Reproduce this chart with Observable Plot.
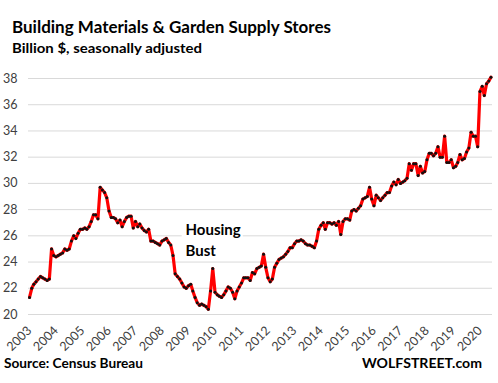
<!DOCTYPE html>
<html><head><meta charset="utf-8">
<script src="https://cdn.jsdelivr.net/npm/d3@7"></script>
<script src="https://cdn.jsdelivr.net/npm/@observablehq/plot@0.6"></script>
<style>
body{margin:0;background:#fff;}
#wrap{width:498px;height:383px;overflow:hidden;background:#fff;}
#wrap svg{display:block;}
.hd{font-family:Lato,"Open Sans",sans-serif;font-weight:700;fill:#000;}
</style></head><body>
<div id="wrap">
<svg id="header" width="498" height="60">
  <text class="hd" x="12" y="32.5" font-size="17" textLength="319" lengthAdjust="spacingAndGlyphs">Building Materials &amp; Garden Supply Stores</text>
  <text class="hd" x="12" y="53" font-size="13" textLength="190" lengthAdjust="spacingAndGlyphs">Billion $, seasonally adjusted</text>
</svg>
<div id="chart"></div>
<svg id="footer" width="498" height="27">
  <text class="hd" x="4" y="12" font-size="13" textLength="139" lengthAdjust="spacingAndGlyphs">Source: Census Bureau</text>
  <text class="hd" x="362" y="12" font-size="13" textLength="120" lengthAdjust="spacingAndGlyphs">WOLFSTREET.com</text>
</svg>
</div>
<script>
// Monthly sales, billion $, seasonally adjusted (Jan 2003 – Jun 2020)
const startYear = 2003;
const v2003 = [21.3, 22.0, 22.3, 22.5, 22.7, 22.9, 22.8, 22.7, 22.6, 22.7, 25.0, 24.5];
const v2004 = [24.4, 24.5, 24.6, 24.7, 25.0, 24.9, 25.0, 25.6, 26.0, 25.8, 26.2, 26.5];
const v2005 = [26.5, 26.6, 26.5, 26.7, 27.1, 27.6, 27.6, 27.3, 29.7, 29.5, 29.3, 28.9];
const v2006 = [27.9, 27.4, 27.4, 27.3, 27.0, 27.2, 26.7, 27.1, 27.4, 27.5, 27.5, 26.6];
const v2007 = [27.1, 26.7, 26.9, 26.6, 26.4, 26.3, 26.5, 25.6, 25.6, 25.5, 25.4, 25.3];
const v2008 = [25.6, 25.7, 25.8, 25.5, 25.3, 24.5, 23.1, 22.9, 22.7, 22.4, 22.1, 22.0];
const v2009 = [22.2, 22.3, 21.8, 21.3, 20.9, 20.7, 20.8, 20.7, 20.6, 20.4, 21.8, 23.5];
const v2010 = [21.7, 21.5, 21.4, 21.3, 21.5, 21.8, 22.1, 22.0, 21.7, 21.2, 21.8, 22.1];
const v2011 = [22.4, 22.8, 22.8, 22.8, 22.6, 23.2, 23.1, 23.5, 23.6, 23.7, 24.6, 23.6];
const v2012 = [22.8, 22.5, 22.7, 23.6, 23.9, 24.2, 24.3, 24.4, 24.6, 24.8, 25.1, 25.1];
const v2013 = [25.4, 25.6, 25.6, 25.7, 25.6, 25.4, 25.3, 25.3, 25.2, 25.1, 25.6, 26.5];
const v2014 = [26.8, 27.0, 26.5, 27.0, 27.0, 26.9, 27.0, 26.8, 27.1, 26.1, 27.1, 27.3];
const v2015 = [27.3, 27.2, 27.9, 28.0, 27.9, 28.1, 28.3, 28.8, 28.9, 29.0, 29.7, 28.8];
const v2016 = [28.3, 29.1, 28.9, 28.7, 28.9, 29.1, 29.3, 29.3, 29.8, 30.1, 29.9, 30.3];
const v2017 = [30.0, 30.1, 30.2, 30.4, 31.5, 31.0, 31.5, 31.5, 30.6, 31.3, 30.8, 30.9];
const v2018 = [31.8, 32.3, 32.3, 32.1, 32.3, 32.8, 32.0, 32.0, 33.6, 31.6, 31.6, 31.8];
const v2019 = [31.2, 31.3, 31.6, 32.2, 31.8, 31.9, 32.4, 32.7, 33.9, 33.6, 33.6, 32.8];
const v2020 = [37.0, 37.4, 36.7, 37.6, 37.8, 38.1];

const yTicks = [20, 22, 24, 26, 28, 30, 32, 34, 36, 38];
const xTickYears = [2003, 2004, 2005, 2006, 2007, 2008, 2009, 2010, 2011, 2012, 2013, 2014, 2015, 2016, 2017, 2018, 2019, 2020];
const annotationText = ["Housing\nBust"];

const allValues = [v2003, v2004, v2005, v2006, v2007, v2008, v2009, v2010, v2011, v2012,
  v2013, v2014, v2015, v2016, v2017, v2018, v2019, v2020].flat();
const data = allValues.map((value, i) => ({date: new Date(Date.UTC(startYear, i, 1)), value}));
const xTicks = xTickYears.map(y => new Date(Date.UTC(y, 0, 1)));

const note = [{text: annotationText[0], x: new Date(Date.UTC(2008, 10, 20)), y: 27.18,
  x1: new Date(Date.UTC(2008, 9, 5)), x2: new Date(Date.UTC(2011, 0, 25)), y1: 24.3, y2: 27.65}];

const chart = Plot.plot({
  width: 498, height: 296,
  marginLeft: 28, marginRight: 6, marginTop: 18, marginBottom: 42,
  x: {type: "utc", domain: [new Date(Date.UTC(2002, 11, 18)), new Date(Date.UTC(2020, 5, 22))]},
  y: {domain: [20, 38]},
  style: {fontFamily: "Lato, 'Open Sans', sans-serif", fontSize: "12.5px", color: "#404040", background: "white", overflow: "visible"},
  marks: [
    Plot.gridY(yTicks, {stroke: "#d9d9d9", strokeOpacity: 1, strokeWidth: 1}),
    Plot.rect(note, {x1: "x1", x2: "x2", y1: "y1", y2: "y2", fill: "white"}),
    Plot.line(data, {x: "date", y: "value", stroke: "#ff0000", strokeWidth: 3.2, strokeLinejoin: "round"}),
    Plot.dot(data, {x: "date", y: "value", r: 1.5, fill: "#111", stroke: "none"}),
    Plot.text(note, {x: "x", y: "y", text: "text", textAnchor: "start", lineAnchor: "top", lineHeight: 1.38,
      fontSize: 15, fontWeight: 700, fill: "#000"}),
    Plot.axisY(yTicks, {tickSize: 0, tickPadding: 11, label: null, fill: "#404040"}),
    Plot.axisX(xTicks, {tickSize: 0, tickPadding: 14, tickRotate: -45, tickFormat: d3.utcFormat("%Y"), label: null, fill: "#404040"})
  ]
});
document.getElementById("chart").appendChild(chart);
</script>
</body></html>
